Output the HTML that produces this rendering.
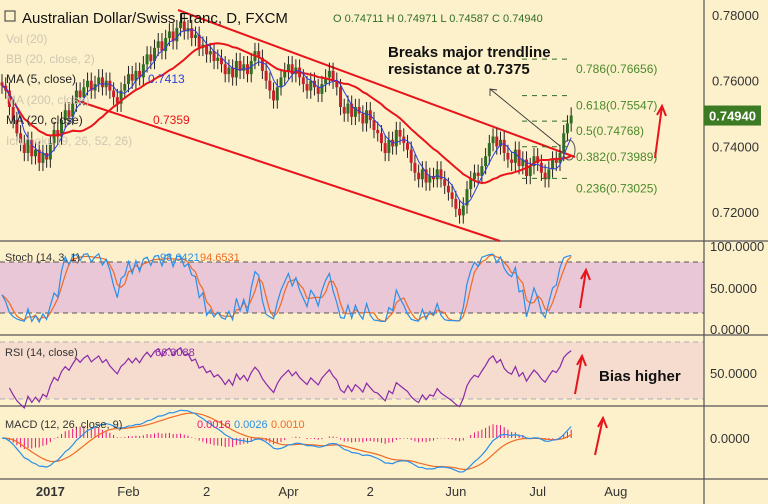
<!DOCTYPE html>
<html><head><meta charset="utf-8">
<style>
html,body{margin:0;padding:0;background:#fdf1cc;}
svg{display:block;font-family:"Liberation Sans",sans-serif;}
</style></head>
<body>
<svg id="c" width="768" height="504" viewBox="0 0 768 504">
<rect x="0" y="0" width="768" height="504" fill="#fdf1cc"/>
<g id="panes"></g>
<g id="marks"></g>
<g id="labels"></g>
</svg>
<script>
// ---- data (daily closes, AUD/CHF) ----
const closes = [
0.7585,0.757,0.752,0.748,0.744,0.741,0.738,0.742,0.737,0.739,
0.735,0.738,0.736,0.741,0.745,0.743,0.748,0.751,0.749,0.753,
0.757,0.755,0.758,0.760,0.757,0.759,0.761,0.758,0.760,0.757,
0.755,0.753,0.757,0.759,0.762,0.760,0.763,0.761,0.765,0.768,
0.766,0.770,0.772,0.769,0.773,0.775,0.772,0.776,0.778,0.775,
0.776,0.773,0.774,0.770,0.771,0.768,0.769,0.766,0.767,0.765,
0.762,0.764,0.761,0.766,0.763,0.765,0.762,0.766,0.769,0.767,
0.763,0.760,0.757,0.754,0.758,0.761,0.763,0.765,0.762,0.764,
0.761,0.759,0.757,0.760,0.758,0.756,0.759,0.761,0.763,0.760,
0.758,0.752,0.750,0.753,0.749,0.752,0.750,0.747,0.751,0.748,
0.745,0.744,0.741,0.738,0.742,0.740,0.745,0.743,0.741,0.739,
0.735,0.732,0.730,0.733,0.729,0.731,0.730,0.733,0.730,0.728,
0.726,0.724,0.721,0.719,0.722,0.727,0.730,0.732,0.731,0.734,
0.737,0.741,0.743,0.740,0.742,0.738,0.736,0.735,0.739,0.734,
0.736,0.731,0.734,0.737,0.735,0.732,0.730,0.733,0.736,0.735,
0.738,0.744,0.747,0.7494];
const priceTicks = [0.78,0.76,0.74,0.72];
const priceTickLabels = ["0.78000","0.76000","0.74000","0.72000"];
const fibLevels = [0.76656,0.75547,0.74768,0.73989,0.73025];
const fibLabels = ["0.786(0.76656)","0.618(0.75547)","0.5(0.74768)","0.382(0.73989)","0.236(0.73025)"];
const dateLabels = ["2017","Feb","2","Apr","2","Jun","Jul","Aug"];
const dateBars = [13,34,55,77,99,122,144,165];
const lastPrice = 0.7494;

// ---- axes ----
const xB = i => 2 + i*3.72;
const yP = p => 15 + (0.78 - p)*3285;
const yS = v => 329 - v*0.82;
const yR = v => 373 - (v-50)*1.425;
const yM = v => 438 - v*5000;

const NS="http://www.w3.org/2000/svg";
function mk(tag, parent, attrs){const e=document.createElementNS(NS,tag);for(const k in attrs)e.setAttribute(k,attrs[k]);document.getElementById(parent).appendChild(e);return e;}
function txt(parent,x,y,s,attrs){const e=mk('text',parent,Object.assign({x:x,y:y},attrs));e.textContent=s;return e;}

// panes
let e;
e=mk('rect','panes',{x:0,y:262,width:704,height:51,fill:'#e9c7d6'});


e=mk('rect','panes',{x:0,y:342,width:704,height:57,fill:'#f6dccf'});


[[262,'stoch-upper-line'],[313,'stoch-lower-line']].forEach(a=>{e=mk('line','panes',{x1:0,x2:704,y1:a[0],y2:a[0],stroke:'#555',"stroke-dasharray":'5,4'});

});
[[342,'rsi-upper-line'],[399,'rsi-lower-line']].forEach(a=>{e=mk('line','panes',{x1:0,x2:704,y1:a[0],y2:a[0],stroke:'#aab',"stroke-dasharray":'5,4'});

});
[[241,'main-pane-separator'],[335,'stoch-pane-separator'],[406,'rsi-pane-separator'],[479,'time-axis-border']].forEach(a=>{e=mk('line','panes',{x1:0,x2:768,y1:a[0],y2:a[0],stroke:'#555',"stroke-width":1.2});

});
e=mk('line','panes',{x1:704,x2:704,y1:0,y2:504,stroke:'#555',"stroke-width":1.2});



// OHLC derived
const opens=closes.map((c,i)=>i?closes[i-1]:c+0.001);
const highs=closes.map((c,i)=>Math.max(c,opens[i])+0.0025);
const lows=closes.map((c,i)=>Math.min(c,opens[i])-0.0025);

// trendlines
e=mk('line','marks',{x1:178,y1:10,x2:575,y2:157,stroke:'#e8141a',"stroke-width":2});


e=mk('line','marks',{x1:75,y1:100,x2:500,y2:241,stroke:'#e8141a',"stroke-width":2});



// candles
closes.forEach((c,i)=>{
  const col=c>=opens[i]?'#2f6e23':'#c9202a';
  const x=xB(i);
  e=mk('line','marks',{x1:x,x2:x,y1:yP(highs[i]),y2:yP(lows[i]),stroke:'#222',"stroke-width":1});
  
  
  const t=yP(Math.max(c,opens[i])),b=yP(Math.min(c,opens[i]));
  e=mk('rect','marks',{x:x-1.5,y:t,width:3,height:Math.max(1,b-t),fill:col});
  
  
});

// MAs
function sma(a,p){return a.map((v,i)=>{const s=a.slice(Math.max(0,i-p+1),i+1);return s.reduce((x,y)=>x+y,0)/s.length;});}
function ema(a,p){const k=2/(p+1);let r=[];a.forEach((v,i)=>r.push(i?v*k+r[i-1]*(1-k):v));return r;}
function poly(vals,yf,col,w,name,start){
  start=start||0;
  const pts=vals.map((v,i)=>i<start?null:xB(i).toFixed(1)+','+yf(v).toFixed(1)).filter(s=>s).join(' ');
  const el=mk('polyline','marks',{points:pts,fill:'none',stroke:col,"stroke-width":w});
  
  
}
poly(sma(closes,20),yP,'#e8141a',2,'ma-20-line');
poly(sma(closes,5),yP,'#2a3ee0',1,'ma-5-line');

// fib levels
fibLevels.forEach((p,k)=>{
  e=mk('line','marks',{x1:522,x2:572,y1:yP(p),y2:yP(p),stroke:'#2f6e23',"stroke-dasharray":'5,5'});
  
  
  e=txt('marks',576,yP(p)+14,fibLabels[k],{fill:'#4b8a2b',"font-size":12});
  
  
});

// circle + annotation arrow
e=mk('ellipse','marks',{cx:569,cy:150,rx:6,ry:10,fill:'none',stroke:'#555'});


e=mk('line','marks',{x1:560,y1:146,x2:490,y2:89,stroke:'#333',"stroke-width":0.9});


e=mk('polyline','marks',{points:'490,96 490,89 497,90',fill:'none',stroke:'#333',"stroke-width":0.9});



// red arrows
[[655,158,662,106,'price-up-arrow'],[580,308,586,270,'stoch-up-arrow'],[575,394,582,356,'rsi-up-arrow'],[595,455,603,418,'macd-up-arrow']].forEach(a=>{
  e=mk('line','marks',{x1:a[0],y1:a[1],x2:a[2],y2:a[3],stroke:'#e8141a',"stroke-width":2});
  
  
  e=mk('polyline','marks',{points:(a[2]-5)+','+(a[3]+9)+' '+a[2]+','+a[3]+' '+(a[2]+4)+','+(a[3]+10),fill:'none',stroke:'#e8141a',"stroke-width":2});
  
  
});

// Stochastic
const kv=closes.map((c,i)=>{const hh=Math.max(...highs.slice(Math.max(0,i-13),i+1)),ll=Math.min(...lows.slice(Math.max(0,i-13),i+1));return 100*(c-ll)/(hh-ll);});
const dv=sma(kv,3);
poly(dv,yS,'#f06a24',1.2,'stoch-d-line');
poly(kv,yS,'#2a8fe8',1.2,'stoch-k-line');
// RSI
const rsi=[];let ag=0.001,al=0.001;
closes.forEach((c,i)=>{if(!i){rsi.push(50);return;}const d=c-closes[i-1];const g=Math.max(d,0),l=Math.max(-d,0);
 ag=(ag*13+g)/14;al=(al*13+l)/14;
 rsi.push(100-100/(1+ag/al));});
poly(rsi,yR,'#8a2aa8',1.2,'rsi-line',2);
// MACD
const e12=ema(closes,12),e26=ema(closes,26);
const macd=e12.map((v,i)=>v-e26[i]);const sig=ema(macd,9);const hist=macd.map((v,i)=>v-sig[i]);
hist.forEach((h,i)=>{e=mk('line','marks',{x1:xB(i),x2:xB(i),y1:yM(0),y2:yM(h),stroke:'#e8147a',"stroke-width":1});
 
 });
poly(sig,yM,'#f06a24',1.2,'macd-signal-line');
poly(macd,yM,'#2a8fe8',1.2,'macd-line');

// axis labels
priceTicks.forEach((p,k)=>{e=txt('labels',712,yP(p)+5,priceTickLabels[k],{fill:'#333',"font-size":13});
 
 });
e=mk('rect','labels',{x:704,y:yP(lastPrice)-10,width:57,height:20,fill:'#3d7a24'});


e=txt('labels',709,yP(lastPrice)+5,'0.74940',{fill:'#fff',"font-size":13,"font-weight":'bold'});


[['100.0000',yS(100)+4,'stoch-tick-100'],['50.0000',yS(50)+5,'stoch-tick-50'],['0.0000',yS(0)+5,'stoch-tick-0'],['50.0000',yR(50)+5,'rsi-tick-50'],['0.0000',438+5,'macd-tick-0']].forEach(a=>{
 e=txt('labels',710,a[1],a[0],{fill:'#333',"font-size":13});
 
 });
dateLabels.forEach((s,k)=>{e=txt('labels',xB(dateBars[k]),496,s,{fill:'#333',"font-size":13,"text-anchor":'middle',"font-weight":k===0?'bold':'normal'});
 
 });
</script>
<script>
(function(){
const L=document.getElementById('labels');
const NS="http://www.w3.org/2000/svg";
function t(x,y,s,size,fill,name,extra){const e=document.createElementNS(NS,'text');e.setAttribute('x',x);e.setAttribute('y',y);e.setAttribute('font-size',size);e.setAttribute('fill',fill);if(extra)for(const k in extra)e.setAttribute(k,extra[k]);e.textContent=s;


L.appendChild(e);}
const b=document.createElementNS(NS,'rect');b.setAttribute('x',5);b.setAttribute('y',11);b.setAttribute('width',10);b.setAttribute('height',10);b.setAttribute('fill','none');b.setAttribute('stroke','#333');


L.appendChild(b);
t(22,23,'Australian Dollar/Swiss Franc, D, FXCM',15,'#111','chart-title');
t(333,22,'O 0.74711  H 0.74971  L 0.74587  C 0.74940',11,'#2f6e23','ohlc-values',{"xml:space":'preserve'});
t(6,43,'Vol (20)',12,'#cfc7b0','vol-legend');
t(6,63,'BB (20, close, 2)',12,'#cfc7b0','bb-legend');
t(6,83,'MA (5, close)',12,'#222','ma5-legend');
t(148,83,'0.7413',12,'#2a3ee0','ma5-value');
t(6,104,'MA (200, close)',12,'#cfc7b0','ma200-legend');
t(6,124,'MA (20, close)',12,'#222','ma20-legend');
t(153,124,'0.7359',12,'#e8141a','ma20-value');
t(6,145,'Ichimoku (9, 26, 52, 26)',12,'#cfc7b0','ichimoku-legend');
t(388,57,'Breaks major trendline',15,'#111','annotation-line1',{"font-weight":'bold'});
t(388,74,'resistance at 0.7375',15,'#111','annotation-line2',{"font-weight":'bold'});
t(5,261,'Stoch (14, 3, 1)',11,'#333','stoch-legend');
t(160,261,'98.6421',11,'#2a8fe8','stoch-k-value');
t(200,261,'94.6531',11,'#f06a24','stoch-d-value');
t(5,356,'RSI (14, close)',11,'#333','rsi-legend');
t(155,356,'66.3088',11,'#8a2aa8','rsi-value');
t(5,428,'MACD (12, 26, close, 9)',11,'#333','macd-legend');
t(197,428,'0.0016',11,'#e8147a','macd-hist-value');
t(234,428,'0.0026',11,'#2a8fe8','macd-value');
t(271,428,'0.0010',11,'#f06a24','macd-signal-value');
t(599,381,'Bias higher',15,'#111','bias-annotation',{"font-weight":'bold'});
})();
</script>
</body></html>
